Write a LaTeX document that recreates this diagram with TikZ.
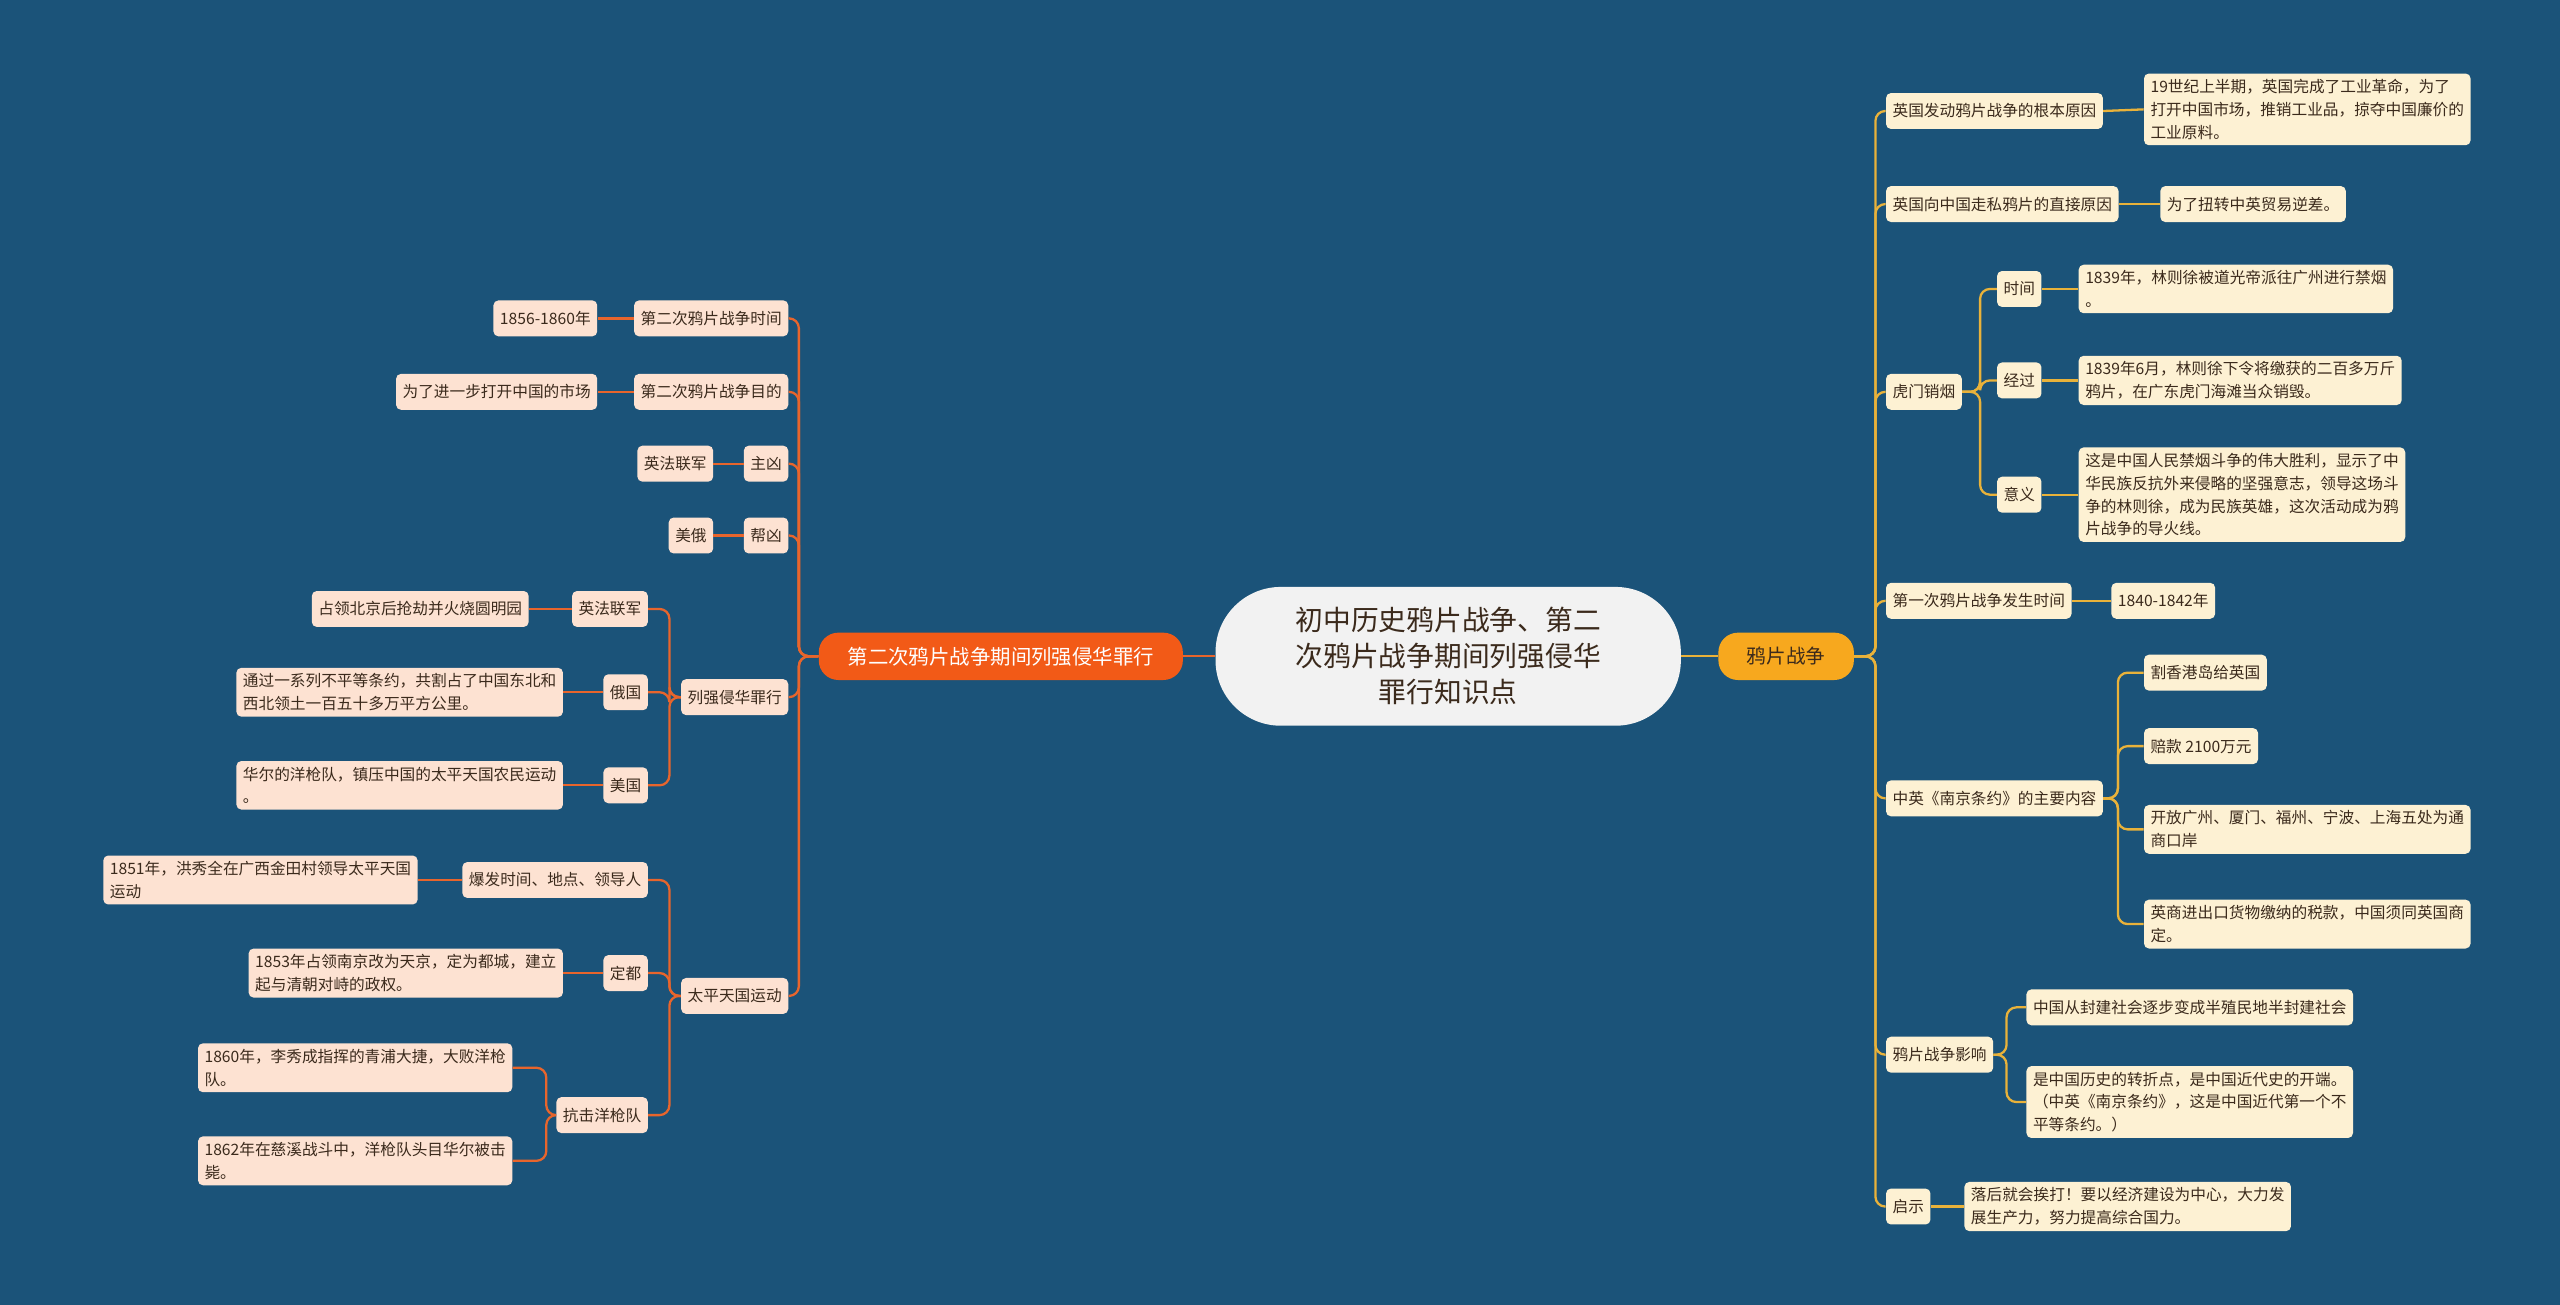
\documentclass[tikz,border=0pt]{standalone}
\usepackage{fontspec}
\setmainfont{Noto Sans CJK SC}
\definecolor{bg}{HTML}{1B5379}
\definecolor{rl}{HTML}{E9B23A}
\definecolor{ll}{HTML}{E8652C}
\definecolor{rf}{HTML}{FDF1D3}
\definecolor{lf}{HTML}{FDE2D2}
\definecolor{tx}{HTML}{3B2A1C}
\definecolor{lm}{HTML}{F25A17}
\definecolor{rm}{HTML}{F7A81E}
\tikzset{
 bx/.style={rounded corners=3pt,inner xsep=4pt,inner ysep=3.5pt,minimum height=22pt,align=left,text=tx,font=\fontsize{9.6}{14}\selectfont},
 rb/.style={bx,fill=rf,anchor=west},
 lb/.style={bx,fill=lf,anchor=east},
 rline/.style={draw=rl,line width=1.4pt,rounded corners=6pt},
 lline/.style={draw=ll,line width=1.4pt,rounded corners=6pt},
}
\begin{document}
\begin{tikzpicture}[x=1pt,y=-1pt]
\fill[bg] (0,0) rectangle (1568,799);
\useasboundingbox (0,0) rectangle (1568,799);
% center
\node[fill=gray!10,rounded corners=40pt,minimum width=285pt,minimum height=85pt,align=center,text=tx,font=\fontsize{17}{22}\selectfont] (c) at (887,402) {初中历史鸦片战争、第二\\次鸦片战争期间列强侵华\\罪行知识点};
\node[fill=rm,rounded corners=12pt,minimum width=83pt,minimum height=29pt,text=tx,font=\fontsize{12}{14}\selectfont] (R) at (1094,402) {鸦片战争};
\node[fill=lm,rounded corners=12pt,minimum width=223pt,minimum height=29pt,text=white,font=\fontsize{12.5}{14}\selectfont] (L) at (613,402) {第二次鸦片战争期间列强侵华罪行};
\draw[rline] (c.east) -- (R.west);
\draw[lline] (c.west) -- (L.east);
% right side
\node[rb] (r1) at (1155,68) {英国发动鸦片战争的根本原因};
\node[rb] (r1a) at (1313,67) {19世纪上半期，英国完成了工业革命，为了\\打开中国市场，推销工业品，掠夺中国廉价的\\工业原料。};
\node[rb] (r2) at (1155,125) {英国向中国走私鸦片的直接原因};
\node[rb] (r2a) at (1323,125) {为了扭转中英贸易逆差。};
\node[rb] (r3) at (1155,240) {虎门销烟};
\node[rb] (r3a) at (1223,177) {时间};
\node[rb] (r3b) at (1223,233) {经过};
\node[rb] (r3c) at (1223,303) {意义};
\node[rb] (r3a1) at (1273,177) {1839年，林则徐被道光帝派往广州进行禁烟\\。};
\node[rb] (r3b1) at (1273,233) {1839年6月，林则徐下令将缴获的二百多万斤\\鸦片，在广东虎门海滩当众销毁。};
\node[rb] (r3c1) at (1273,303) {这是中国人民禁烟斗争的伟大胜利，显示了中\\华民族反抗外来侵略的坚强意志，领导这场斗\\争的林则徐，成为民族英雄，这次活动成为鸦\\片战争的导火线。};
\node[rb] (r4) at (1155,368) {第一次鸦片战争发生时间};
\node[rb] (r4a) at (1293,368) {1840-1842年};
\node[rb] (r5) at (1155,489) {中英《南京条约》的主要内容};
\node[rb] (r5a) at (1313,412) {割香港岛给英国};
\node[rb] (r5b) at (1313,457) {赔款 2100万元};
\node[rb] (r5c) at (1313,508) {开放广州、厦门、福州、宁波、上海五处为通\\商口岸};
\node[rb] (r5d) at (1313,566) {英商进出口货物缴纳的税款，中国须同英国商\\定。};
\node[rb] (r6) at (1155,646) {鸦片战争影响};
\node[rb] (r6a) at (1241,617) {中国从封建社会逐步变成半殖民地半封建社会};
\node[rb] (r6b) at (1241,675) {是中国历史的转折点，是中国近代史的开端。\\（中英《南京条约》，这是中国近代第一个不\\平等条约。）};
\node[rb] (r7) at (1155,739) {启示};
\node[rb] (r7a) at (1203,739) {落后就会挨打！要以经济建设为中心，大力发\\展生产力，努力提高综合国力。};
\foreach \n in {r1,r2,r3,r4,r5,r6,r7} \draw[rline] (R.east) -- ++(13,0) |- (\n.west);
\draw[rline] (r1.east) -- (r1a.west);
\draw[rline] (r2.east) -- (r2a.west);
\draw[rline] (r4.east) -- (r4a.west);
\draw[rline] (r7.east) -- (r7a.west);
\foreach \n in {r3a,r3b,r3c} \draw[rline] (r3.east) -- ++(11,0) |- (\n.west);
\draw[rline] (r3a.east) -- (r3a1.west);
\draw[rline] (r3b.east) -- (r3b1.west);
\draw[rline] (r3c.east) -- (r3c1.west);
\foreach \n in {r5a,r5b,r5c,r5d} \draw[rline] (r5.east) -- ++(9,0) |- (\n.west);
\foreach \n in {r6a,r6b} \draw[rline] (r6.east) -- ++(8,0) |- (\n.west);
% left side
\node[lb] (l1) at (483,195) {第二次鸦片战争时间};
\node[lb] (l1a) at (366,195) {1856-1860年};
\node[lb] (l2) at (483,240) {第二次鸦片战争目的};
\node[lb] (l2a) at (366,240) {为了进一步打开中国的市场};
\node[lb] (l3) at (483,284) {主凶};
\node[lb] (l3a) at (437,284) {英法联军};
\node[lb] (l4) at (483,328) {帮凶};
\node[lb] (l4a) at (437,328) {美俄};
\node[lb] (l5) at (483,427) {列强侵华罪行};
\node[lb] (l5a) at (397,373) {英法联军};
\node[lb] (l5a1) at (324,373) {占领北京后抢劫并火烧圆明园};
\node[lb] (l5b) at (397,424) {俄国};
\node[lb] (l5b1) at (345,424) {通过一系列不平等条约，共割占了中国东北和\\西北领土一百五十多万平方公里。};
\node[lb] (l5c) at (397,481) {美国};
\node[lb] (l5c1) at (345,481) {华尔的洋枪队，镇压中国的太平天国农民运动\\。};
\node[lb] (l6) at (483,610) {太平天国运动};
\node[lb] (l6a) at (397,539) {爆发时间、地点、领导人};
\node[lb] (l6a1) at (256,539) {1851年，洪秀全在广西金田村领导太平天国\\运动};
\node[lb] (l6b) at (397,596) {定都};
\node[lb] (l6b1) at (345,596) {1853年占领南京改为天京，定为都城，建立\\起与清朝对峙的政权。};
\node[lb] (l6c) at (397,683) {抗击洋枪队};
\node[lb] (l6c1) at (314,654) {1860年，李秀成指挥的青浦大捷，大败洋枪\\队。};
\node[lb] (l6c2) at (314,711) {1862年在慈溪战斗中，洋枪队头目华尔被击\\毙。};
\foreach \n in {l1,l2,l3,l4,l5,l6} \draw[lline] (L.west) -- ++(-12,0) |- (\n.east);
\draw[lline] (l1.west) -- (l1a.east);
\draw[lline] (l2.west) -- (l2a.east);
\draw[lline] (l3.west) -- (l3a.east);
\draw[lline] (l4.west) -- (l4a.east);
\foreach \n in {l5a,l5b,l5c} \draw[lline] (l5.west) -- ++(-7,0) |- (\n.east);
\draw[lline] (l5a.west) -- (l5a1.east);
\draw[lline] (l5b.west) -- (l5b1.east);
\draw[lline] (l5c.west) -- (l5c1.east);
\foreach \n in {l6a,l6b,l6c} \draw[lline] (l6.west) -- ++(-7,0) |- (\n.east);
\draw[lline] (l6a.west) -- (l6a1.east);
\draw[lline] (l6b.west) -- (l6b1.east);
\foreach \n in {l6c1,l6c2} \draw[lline] (l6c.west) -- ++(-6,0) |- (\n.east);
\end{tikzpicture}
\end{document}
